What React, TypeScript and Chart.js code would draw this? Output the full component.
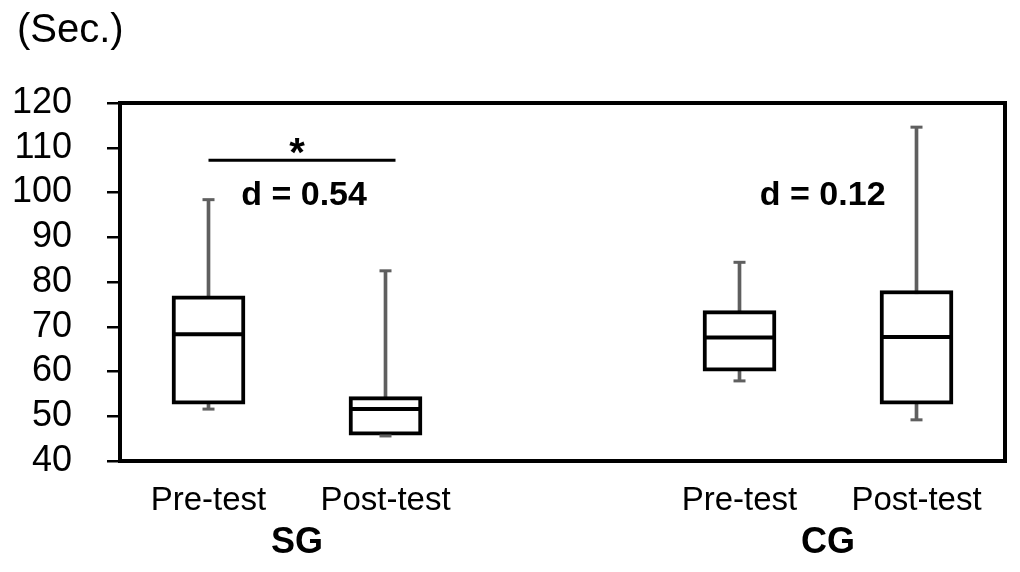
import React, { useEffect, useRef } from "react";
import { Chart, registerables } from "chart.js";

Chart.register(...registerables);

// ---- data ----
const categories = ["Pre-test", "Post-test", "", "Pre-test", "Post-test"];
const groupLabels = ["SG", "CG"];
const groupMembers = [[0, 1], [3, 4]];
const minValues: (number | null)[] = [51.6, 45.6, null, 57.9, 49.2];
const q1Values: (number | null)[] = [52.7, 45.8, null, 60.1, 52.7];
const medianValues: (number | null)[] = [68.3, 51.6, null, 67.6, 67.7];
const q3Values: (number | null)[] = [76.9, 54.4, null, 73.6, 78.1];
const maxValues: (number | null)[] = [98.4, 82.5, null, 84.4, 114.6];
const yMin = 40;
const yMax = 120;
const yStep = 10;
const effectSizes = ["d = 0.54", "d = 0.12"];
const significance = "*";
const unitLabel = "(Sec.)";

const FONT = "'Liberation Sans', Arial, sans-serif";
const BOX_WIDTH = 73;
const WHISKER_COLOR = "#5f5f5f";

const overlay = {
  id: "boxOverlay",
  afterDatasetsDraw(chart: any) {
    const ctx = chart.ctx;
    const xs = chart.scales.x;
    const ys = chart.scales.y;
    ctx.save();
    // caps
    ctx.strokeStyle = WHISKER_COLOR;
    ctx.lineWidth = 3;
    categories.forEach((_, i) => {
      const mn = minValues[i];
      const mx = maxValues[i];
      if (mn == null || mx == null) return;
      const x = xs.getPixelForValue(i);
      [mn, mx].forEach((v) => {
        const y = ys.getPixelForValue(v);
        ctx.beginPath();
        ctx.moveTo(x - 6, y);
        ctx.lineTo(x + 6, y);
        ctx.stroke();
      });
    });
    // medians
    ctx.strokeStyle = "#000";
    ctx.lineWidth = 4;
    categories.forEach((_, i) => {
      const md = medianValues[i];
      if (md == null) return;
      const x = xs.getPixelForValue(i);
      const y = ys.getPixelForValue(md);
      ctx.beginPath();
      ctx.moveTo(x - BOX_WIDTH / 2 + 2, y);
      ctx.lineTo(x + BOX_WIDTH / 2 - 2, y);
      ctx.stroke();
    });
    ctx.restore();
  },
  afterDraw(chart: any) {
    const ctx = chart.ctx;
    const xs = chart.scales.x;
    const ys = chart.scales.y;
    const ca = chart.chartArea;
    ctx.save();
    // frame
    ctx.strokeStyle = "#000";
    ctx.lineWidth = 4;
    ctx.strokeRect(ca.left, ca.top, ca.right - ca.left, ca.bottom - ca.top);

    // significance bar
    const lineY = ys.getPixelForValue(107.2);
    const x0 = xs.getPixelForValue(0);
    const x1 = xs.getPixelForValue(1) + 10;
    ctx.lineWidth = 3;
    ctx.beginPath();
    ctx.moveTo(x0, lineY);
    ctx.lineTo(x1, lineY);
    ctx.stroke();
    ctx.fillStyle = "#000";
    ctx.textAlign = "center";
    ctx.textBaseline = "middle";
    ctx.font = `bold 40px ${FONT}`;
    ctx.fillText(significance, (x0 + x1) / 2 - 5, lineY - 5);

    // effect sizes
    ctx.font = `bold 34px ${FONT}`;
    const dY = ys.getPixelForValue(99.2);
    ctx.fillText(effectSizes[0], xs.getPixelForValue(0.54), dY);
    ctx.fillText(effectSizes[1], xs.getPixelForValue(3.47), dY);

    // group labels
    ctx.font = `bold 36px ${FONT}`;
    groupLabels.forEach((g, k) => {
      const [a, b] = groupMembers[k];
      const gx = (xs.getPixelForValue(a) + xs.getPixelForValue(b)) / 2;
      ctx.fillText(g, gx, 535);
    });

    // unit label
    ctx.textAlign = "left";
    ctx.font = `40px ${FONT}`;
    ctx.fillText(unitLabel, 9, 23);
    ctx.restore();
  },
};

export default function App() {
  const ref = useRef<HTMLCanvasElement | null>(null);
  useEffect(() => {
    if (!ref.current) return;
    const boxData = categories.map((_, i) =>
      q1Values[i] == null || q3Values[i] == null ? null : [q1Values[i], q3Values[i]]
    );
    const whiskerData = categories.map((_, i) =>
      minValues[i] == null || maxValues[i] == null ? null : [minValues[i], maxValues[i]]
    );
    const chart = new Chart(ref.current, {
      type: "bar",
      data: {
        labels: categories,
        datasets: [
          {
            label: "box",
            data: boxData as any,
            backgroundColor: "#ffffff",
            borderColor: "#000000",
            borderWidth: 4,
            borderSkipped: false,
            barThickness: BOX_WIDTH,
            grouped: false,
            order: 0,
          },
          {
            label: "whisker",
            data: whiskerData as any,
            backgroundColor: WHISKER_COLOR,
            borderWidth: 0,
            barThickness: 3,
            grouped: false,
            order: 1,
          },
        ],
      },
      options: {
        animation: false,
        responsive: false,
        maintainAspectRatio: false,
        layout: { padding: { top: 95, right: 7, left: 0, bottom: 0 } },
        plugins: {
          legend: { display: false },
          tooltip: { enabled: false },
          title: { display: false },
        },
        scales: {
          x: {
            type: "category",
            grid: { display: false, drawTicks: false },
            border: { display: false },
            ticks: {
              color: "#000",
              padding: 20,
              autoSkip: false,
              maxRotation: 0,
              font: { family: FONT, size: 33 },
            },
            afterFit(scale: any) {
              scale.height = 103;
            },
          },
          y: {
            min: yMin,
            max: yMax,
            grid: {
              display: true,
              drawOnChartArea: false,
              drawTicks: true,
              tickLength: 13,
              color: "#000",
              lineWidth: 2.5,
            },
            border: { display: false },
            ticks: {
              stepSize: yStep,
              autoSkip: false,
              color: "#000",
              padding: 35,
              font: { family: FONT, size: 36 },
            },
            afterFit(scale: any) {
              scale.width = 112;
            },
          },
        },
      },
      plugins: [overlay],
    });
    return () => chart.destroy();
  }, []);
  return (
    <div style={{ width: 1004, height: 556 }}>
      <canvas ref={ref} width={1004} height={556} style={{ width: 1004, height: 556 }} />
    </div>
  );
}
